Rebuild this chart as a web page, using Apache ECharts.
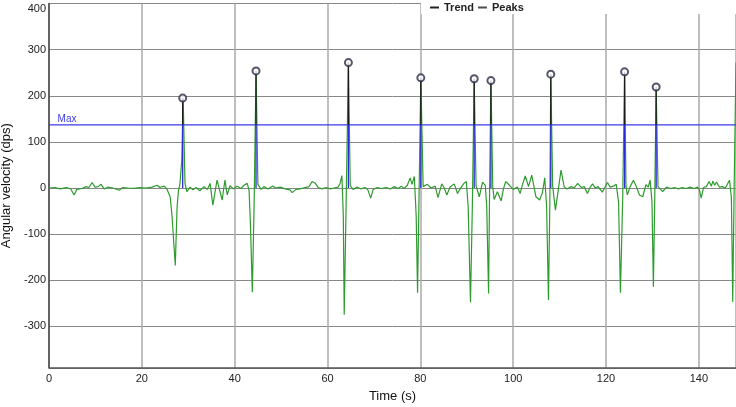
<!DOCTYPE html>
<html>
<head>
<meta charset="utf-8">
<script src="https://cdn.jsdelivr.net/npm/echarts@6/dist/echarts.min.js"></script>
<style>
html, body { margin: 0; padding: 0; background: #fff; }
#container { width: 736px; height: 407px; }
</style>
</head>
<body>
<div id="container"></div>
<script>
// trend signal, time (s) and angular velocity (dps)
var trendTime = [0, 1.3, 2.4, 3.7, 4.7, 5.4, 6.0, 7.1, 8.0, 8.6, 9.3, 9.9, 10.6, 11.2, 11.9, 12.7, 13.8, 15.1, 15.9, 17.0,
	18.3, 19.6, 20.9, 22.2, 23.3, 23.9, 24.8, 25.4, 26.1, 26.5, 27.2, 27.6, 27.9, 28.2, 28.6, 28.9, 29.3, 29.7, 30.4, 31.0,
	31.7, 32.5, 33.4, 34.1, 34.7, 35.3, 36.2, 36.9, 37.3, 37.9, 38.4, 39.0, 39.7, 40.5, 41.4, 42.0, 42.7, 43.1, 43.4, 43.8,
	44.2, 44.6, 45.0, 45.7, 46.3, 47.2, 48.1, 48.9, 49.8, 50.9, 51.9, 52.4, 53.2, 54.1, 55.2, 56.0, 56.7, 57.3, 58.0, 58.8,
	59.7, 60.6, 61.4, 62.3, 62.7, 63.1, 63.4, 63.6, 64.0, 64.5, 64.9, 65.5, 66.4, 67.2, 68.1, 68.7, 69.3, 69.8, 70.7, 71.6,
	72.6, 73.5, 74.4, 75.2, 75.9, 76.5, 77.2, 77.8, 78.2, 78.7, 79.1, 79.4, 79.7, 80.1, 80.6, 81.5, 82.3, 83.2, 83.8, 84.6,
	85.1, 85.7, 86.4, 87.3, 88.0, 88.8, 89.4, 89.9, 90.3, 90.8, 91.2, 91.6, 92.0, 92.7, 93.4, 94.0, 94.3, 94.7, 94.9, 95.2,
	95.6, 95.9, 96.6, 97.4, 97.9, 98.4, 99.1, 100.0, 100.9, 101.5, 101.9, 102.6, 103.3, 104.0, 104.9, 105.7, 106.3, 106.8, 107.2, 107.6,
	107.9, 108.1, 108.5, 109.1, 109.7, 110.3, 111.0, 111.6, 112.5, 113.1, 113.9, 114.7, 115.3, 116.0, 116.6, 117.1, 117.7, 118.3, 119.2, 119.8,
	120.3, 120.9, 121.6, 122.2, 122.7, 123.1, 123.6, 124.0, 124.3, 124.6, 125.2, 125.9, 126.5, 127.2, 127.9, 128.6, 129.1, 129.5, 129.9, 130.2,
	130.5, 130.8, 131.2, 132.2, 133.0, 133.8, 134.7, 135.6, 136.4, 137.3, 138.1, 139.0, 139.7, 140.1, 140.5, 141.0, 141.6, 142.2, 142.7, 143.0,
	143.4, 143.8, 144.4, 145.0, 145.7, 146.6, 147.0, 147.3, 147.6, 148.0];
var trendValue = [0, 1, -2, 1, -2, -15, -3, -1, 3, 1, 12, 2, 3, 8, -2, 2, 0, -5, 1, 0,
	-1, 1, 0, 2, 6, 1, 4, -2, -19, -60, -168, -40, -5, 8, 60, 195, 10, -8, 2, -4,
	1, -6, 3, -3, 10, -37, 17, -10, -26, 17, -15, 5, -2, 4, -1, 6, 10, -5, -80, -226,
	-30, 254, 8, -3, 3, -2, 4, 0, 2, -2, -4, -10, -3, -2, 1, 3, 14, 11, 1, -2,
	1, -2, 0, 2, 10, 27, -60, -275, -40, 272, 5, -3, 2, -2, 1, -4, -22, -4, 1, -1,
	1, -2, 3, -1, 4, -1, 6, 22, 8, 25, -60, -227, -30, 239, 3, 8, 0, 4, -21, 9,
	1, -15, 2, 9, -12, 2, 10, 14, -40, -248, -40, 237, 5, -19, 13, 5, -40, -229, -20, 233,
	2, -25, -8, -28, -2, 14, 7, -3, 2, -12, 4, 26, 3, 28, -19, -26, -10, 22, -40, -243,
	-30, 247, 5, -48, -5, 39, 2, -2, 3, 0, 10, 1, 3, -12, 2, 9, 0, 3, -9, 2,
	12, 2, 4, 8, -30, -227, -20, 252, 4, -15, 3, 17, 4, -15, -19, 7, 2, 17, -30, -214,
	-20, 219, 3, -8, 2, -1, 1, -2, 1, -1, 2, -1, 2, -3, -22, 1, 3, 14, 4, 15,
	6, 13, 2, 3, 0, 17, -20, -247, 0, 272];
// detected peaks
var peakTime = [28.8, 44.6, 64.5, 80.1, 91.6, 95.2, 108.1, 124.0, 130.8];
var peakValue = [195, 254, 272, 239, 237, 233, 247, 252, 219];
var maxLevel = 137;
var timeRange = [0, 148];

var trendData = trendTime.map(function(t, i) { return [t, trendValue[i]]; });
var peakData = peakTime.map(function(t, i) { return [t, peakValue[i]]; });
// stems: blue below the Max level, black above it, broken between peaks
var stemLow = [], stemHigh = [];
peakTime.forEach(function(t, i) {
	stemLow.push([t, 0], [t, Math.min(peakValue[i], maxLevel)], [t, '-']);
	stemHigh.push([t, maxLevel], [t, peakValue[i]], [t, '-']);
});
var maxData = [
	{ value: [timeRange[0], maxLevel], label: { show: true, formatter: 'Max', position: 'top', distance: 1, offset: [18, 0], color: '#3a3aee', fontSize: 10 } },
	{ value: [timeRange[1], maxLevel], symbol: 'none' }
];

var myChart = echarts.init(document.getElementById('container'));
var option = {
	animation: false,
	textStyle: { fontFamily: 'Liberation Sans, Arial, sans-serif' },
	grid: { left: 49, right: 0, top: 3.6, bottom: 39.2, outerBoundsMode: 'none', containLabel: false },
	legend: {
		left: 430, top: 2, padding: 0, z: 10,
		icon: 'rect', itemWidth: 9, itemHeight: 2, itemGap: 4,
		selectedMode: false,
		textStyle: { fontSize: 11, fontWeight: 'bold', color: '#222' },
		data: [
			{ name: 'Trend', itemStyle: { color: '#222' } },
			{ name: 'Peaks', itemStyle: { color: '#222' } }
		]
	},
	graphic: [{
		type: 'rect', left: 421, top: 0, z: 5,
		shape: { width: 315, height: 14 },
		style: { fill: '#fff' }
	}],
	xAxis: {
		type: 'value', min: timeRange[0], max: timeRange[1], interval: 20,
		name: 'Time (s)', nameLocation: 'middle', nameGap: 22,
		nameTextStyle: { fontSize: 13, color: '#111' },
		axisLine: { onZero: false, lineStyle: { color: '#555', width: 1.5 } },
		axisTick: { show: false },
		axisLabel: { margin: 6, fontSize: 11, color: '#222', showMaxLabel: false },
		splitLine: { show: true, lineStyle: { color: '#aaa', width: 1.5 } }
	},
	yAxis: {
		type: 'value', min: -390, max: 400, splitNumber: 8,
		name: 'Angular velocity (dps)', nameLocation: 'middle', nameGap: 32,
		nameTextStyle: { fontSize: 13, color: '#111' },
		axisLine: { show: true, lineStyle: { color: '#444', width: 1.5 } },
		axisTick: { show: false },
		axisLabel: {
			margin: 3, fontSize: 11, color: '#222', showMinLabel: false,
			formatter: function(v) { return v === 400 ? '{t|400}' : v; },
			rich: { t: { fontSize: 11, color: '#222', padding: [10, 0, 0, 0] } }
		},
		splitLine: { lineStyle: { color: '#888', width: 1 } }
	},
	series: [{
		name: 'Trend',
		type: 'line',
		data: trendData,
		symbol: 'none',
		lineStyle: { color: '#2e9b2e', width: 1.2 },
		itemStyle: { color: '#2e9b2e' }
	}, {
		// Max threshold line
		type: 'line',
		data: maxData,
		symbol: 'circle',
		symbolSize: 0.1,
		showSymbol: true,
		clip: false,
		z: 6,
		lineStyle: { color: '#3a3aee', width: 1.2 },
		itemStyle: { color: '#3a3aee' }
	}, {
		type: 'line',
		data: stemLow,
		symbol: 'none',
		connectNulls: false,
		z: 7,
		lineStyle: { color: '#2b2bd6', width: 1.3 },
		itemStyle: { color: '#2b2bd6' }
	}, {
		type: 'line',
		data: stemHigh,
		symbol: 'none',
		connectNulls: false,
		z: 7,
		lineStyle: { color: '#1a1a1a', width: 1.3 },
		itemStyle: { color: '#1a1a1a' }
	}, {
		name: 'Peaks',
		type: 'scatter',
		data: peakData,
		symbol: 'emptyCircle',
		symbolSize: 7,
		z: 8,
		itemStyle: { color: '#2c2c48', borderWidth: 1.3 }
	}]
};
myChart.setOption(option);
</script>
</body>
</html>
